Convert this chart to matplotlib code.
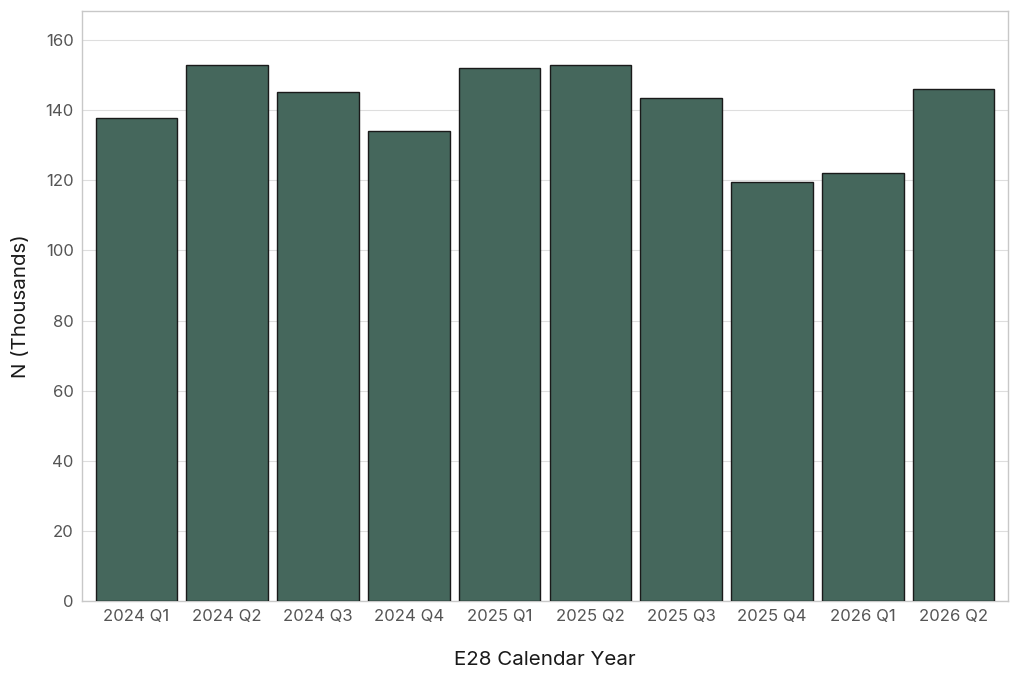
import matplotlib
matplotlib.use("Agg")
import matplotlib.pyplot as plt
import numpy as np

categories = ["2024 Q1", "2024 Q2", "2024 Q3", "2024 Q4", "2025 Q1",
              "2025 Q2", "2025 Q3", "2025 Q4", "2026 Q1", "2026 Q2"]
values = [137.8, 152.9, 145.1, 134.1, 152.1, 152.9, 143.6, 119.6, 122.1, 146.0]
yticks = [0, 20, 40, 60, 80, 100, 120, 140, 160]

plt.rcParams['font.family'] = ['Inter', 'DejaVu Sans']

fig = plt.figure(figsize=(10.24, 6.84), dpi=100)
ax = fig.add_axes([82/1024, 1 - 601/684, (1008-82)/1024, (601-11)/684])

x = np.arange(len(categories))
ax.bar(x, values, width=0.9, color="#45675c", edgecolor="#1a1a1a", linewidth=1.0, zorder=3)

ax.set_xlim(-0.6, len(categories) - 0.4)
ax.set_ylim(0, 168.3)
ax.set_yticks(yticks)
ax.set_xticks(x)
ax.set_xticklabels(categories)
ax.tick_params(axis='both', length=0, labelsize=12, labelcolor="#555555", pad=6)
ax.yaxis.grid(True, color="#dedede", linewidth=0.8, zorder=0)
ax.xaxis.grid(False)
for s in ax.spines.values():
    s.set_color("#c8c8c8")
    s.set_linewidth(1.0)

ax.set_xlabel("E28 Calendar Year", fontsize=14.8, color="#1a1a1a", labelpad=19)
ax.set_ylabel("N (Thousands)", fontsize=14.8, color="#1a1a1a", labelpad=11)

fig.savefig("out.png", dpi=100)
